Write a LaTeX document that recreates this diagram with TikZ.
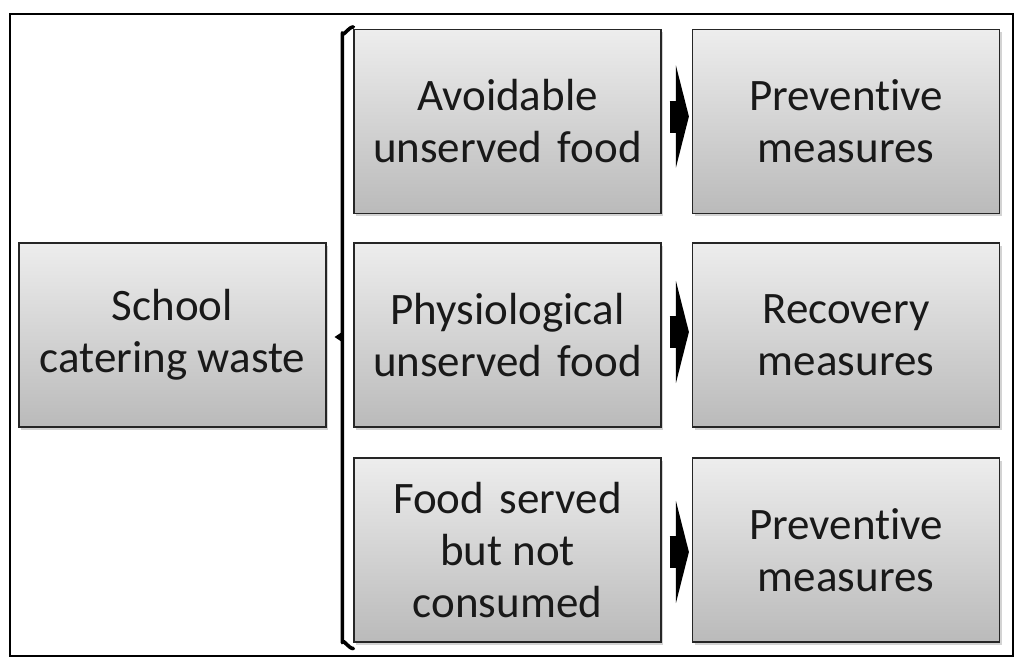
\documentclass[tikz,border=0pt]{standalone}
\usepackage{fontspec}
\setmainfont{Carlito}[Ligatures=NoCommon]
\usetikzlibrary{shadows,arrows.meta,calc}
\begin{document}
\begin{tikzpicture}[x=1pt,y=-1pt,
  box/.style={draw=black!85, line width=1.2pt, top color=black!7, bottom color=black!27,
    minimum width=307pt, minimum height=184pt, inner sep=0pt, align=center,
    font=\fontsize{45}{52}\selectfont, text=black!90,
    drop shadow={shadow xshift=2pt, shadow yshift=-2.5pt, opacity=0.35}},
  fatarrow/.style={line width=32pt, -{Triangle[width=102pt,length=13pt]}, shorten <=8pt, shorten >=3pt}
]
\useasboundingbox (0,0) rectangle (1024,667);
\draw[line width=2.5pt] (10,14) rectangle (1013,656);

\node[box] (school) at (172.5,335) {School\\catering waste};

\node[box] (avoid) at (507.5,121.5) {Avoidable\\unserved\hspace{0.12em} food};
\node[box] (phys)  at (507.5,335) {Physiological\\unserved\hspace{0.12em} food};
\node[box] (served) at (507.5,550) {Food\hspace{0.12em} served\\but not\\consumed};

\node[box] (prev1) at (846,121.5) {Preventive\\measures};
\node[box] (recov) at (846,335) {Recovery\\measures};
\node[box] (prev2) at (846,550) {Preventive\\measures};

\draw[fatarrow] ([yshift=5pt]avoid.east) -- ([yshift=5pt]prev1.west);
\draw[fatarrow] ([yshift=3pt]phys.east) -- ([yshift=3pt]recov.west);
\draw[fatarrow] ([yshift=-2pt]served.east) -- ([yshift=-2pt]prev2.west);

% bracket
\coordinate (btop) at ($(avoid.north west)+(-5,-2)$);
\coordinate (bbot) at ($(served.south west)+(-5,6)$);
\coordinate (btick) at ($(school.east)+(8,2)$);
\draw[line width=3.6pt, line cap=round, line join=round]
  ($(btop)+(5,0)$) to[out=180,in=-90] ($(btop)+(-6,6)$) -- ($(bbot)+(-6,-6)$) to[out=90,in=180] ($(bbot)+(5,0)$);
\fill ($(btick)+(9,-6)$) -- (btick) -- ($(btick)+(9,6)$) -- cycle;
\end{tikzpicture}
\end{document}
